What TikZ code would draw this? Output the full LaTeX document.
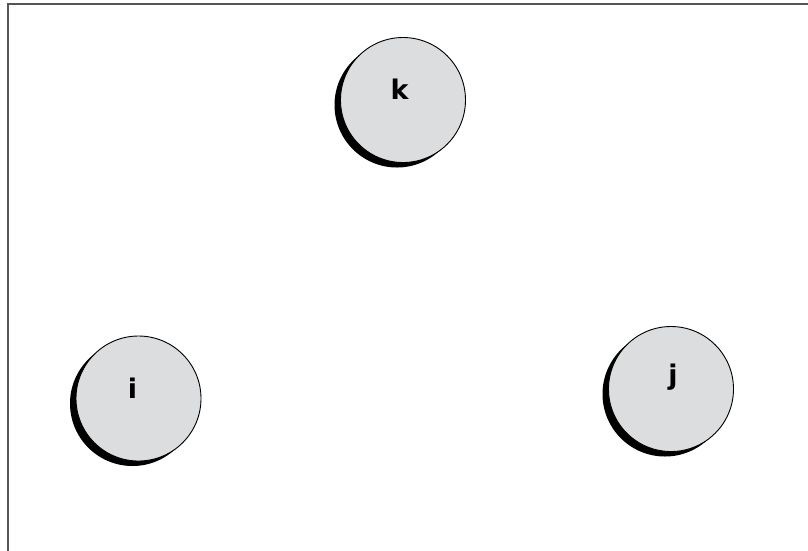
\documentclass[tikz,border=0pt]{standalone}
\usepackage{fontspec}
\newfontfamily\labfont{DejaVu Sans Bold}
\usetikzlibrary{shadows}
\definecolor{ballfill}{HTML}{DCDDDF}
\definecolor{framegray}{HTML}{555555}
\tikzset{
  ball/.style={circle, draw=black, line width=0.9pt, fill=ballfill, minimum size=125pt, inner sep=0pt,
    drop shadow={shadow xshift=-6pt, shadow yshift=-5pt, fill=black, opacity=1}},
  lab/.style={font=\labfont\fontsize{27}{32}\selectfont, inner sep=0pt, anchor=base},
  frameline/.style={draw=framegray, line width=2pt}
}
\begin{document}
\begin{tikzpicture}[x=1pt,y=-1pt]
\useasboundingbox (0,0) rectangle (808,550);
\fill[white] (0,0) rectangle (808,550);
\coordinate (fbl) at (8,552);
\coordinate (ftl) at (8,4);
\coordinate (ftr) at (810,4);
\draw[frameline] (fbl) -- (ftl) -- (ftr);
\node[ball] (k) at (403,100) {};
\node[ball] (i) at (138.5,398.5) {};
\node[ball] (j) at (671,389) {};
\node[lab] (kt) at (399.5,99) {k};
\node[lab] (it) at (132.5,398) {i};
\node[lab] (jt) at (673,384) {j};
\end{tikzpicture}
\end{document}
